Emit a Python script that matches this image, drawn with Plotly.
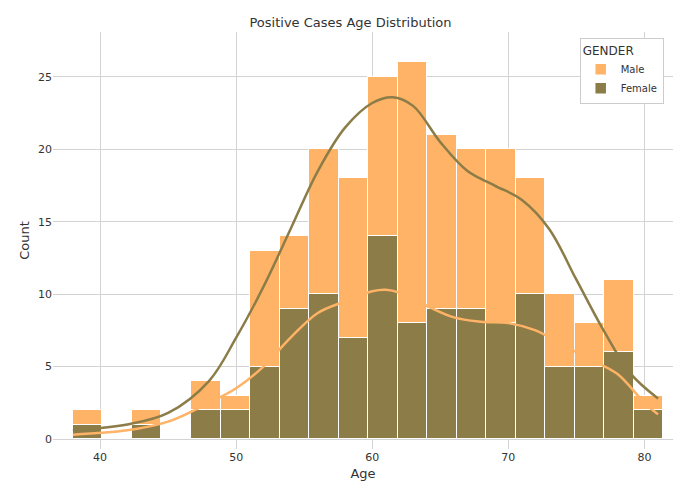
import plotly.graph_objects as go

bin_start = 38.0
bin_width = 2.17
female = [1, 0, 1, 0, 2, 2, 5, 9, 10, 7, 14, 8, 9, 9, 8, 10, 5, 5, 6, 2]
total = [2, 0, 2, 0, 4, 3, 13, 14, 20, 18, 25, 26, 21, 20, 20, 18, 10, 8, 11, 3]
male = [t - f for t, f in zip(total, female)]
centers = [bin_start + bin_width * (i + 0.5) for i in range(len(total))]

kde_top_x = [38, 42, 45, 48, 50, 52, 54, 56, 58, 60, 61.5, 63, 65, 67, 69, 71, 73, 75, 77, 79, 81]
kde_top_y = [0.6, 1.0, 1.8, 4, 7, 10.5, 14.5, 18.5, 21.5, 23.2, 23.6, 23, 20.5, 18.5, 17.5, 16.5, 14.5, 11, 7.5, 4.5, 2.8]
kde_low_x = [38, 42, 45, 48, 50, 52, 54, 56, 58, 60, 61, 62, 64, 66, 68, 70, 72, 74, 76, 78, 80, 81]
kde_low_y = [0.3, 0.6, 1.2, 2.5, 3.5, 5, 7, 8.7, 9.5, 10.2, 10.3, 10.1, 9.2, 8.4, 8.1, 8.0, 7.5, 6.5, 5.5, 4.5, 2.5, 1.7]

male_c = "#ffb366"
female_c = "#8c7c48"

fig = go.Figure()
fig.add_trace(go.Bar(x=centers, y=female, width=bin_width, name="Female",
                     marker=dict(color=female_c, line=dict(color="white", width=1.5))))
fig.add_trace(go.Bar(x=centers, y=male, width=bin_width, name="Male",
                     marker=dict(color=male_c, line=dict(color="white", width=1.5))))
fig.add_trace(go.Scatter(x=kde_low_x, y=kde_low_y, mode="lines", line=dict(color=male_c, width=2.5, shape="spline"),
                         showlegend=False))
fig.add_trace(go.Scatter(x=kde_top_x, y=kde_top_y, mode="lines", line=dict(color=female_c, width=2.5, shape="spline"),
                         showlegend=False))

fig.update_layout(
    width=685, height=489, barmode="stack", bargap=0,
    paper_bgcolor="white", plot_bgcolor="white",
    font=dict(family="DejaVu Sans", size=11, color="#333"),
    title=dict(text="Positive Cases Age Distribution", x=0.5, y=0.98, font=dict(size=13)),
    margin=dict(l=45, r=20, t=24, b=48),
    legend=dict(title=dict(text="GENDER"), x=0.985, y=0.985, xanchor="right", yanchor="top",
                bordercolor="#ccc", borderwidth=1, traceorder="reversed", font=dict(size=10)),
)
fig.update_xaxes(title=dict(text="Age", standoff=5), range=[36.54, 82.1], tickvals=[40, 50, 60, 70, 80],
                 showgrid=True, gridcolor="#d3d3d3", zeroline=False, showline=False)
fig.update_yaxes(title=dict(text="Count", standoff=5), range=[-0.69, 28.1], tickvals=[0, 5, 10, 15, 20, 25],
                 showgrid=True, gridcolor="#d3d3d3", zeroline=False, showline=False)
fig.write_html("out.html")
